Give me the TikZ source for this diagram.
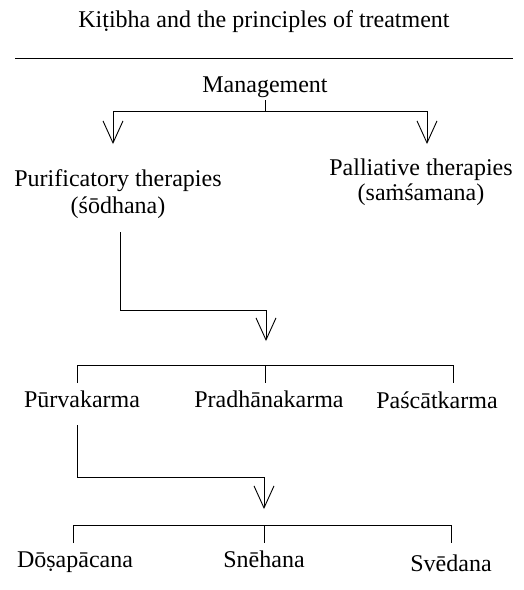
\documentclass[tikz,border=0pt]{standalone}
\usepackage{fontspec}
\setmainfont{Liberation Serif}
\usetikzlibrary{arrows.meta}

\begin{document}
\begin{tikzpicture}[x=1pt, y=-1pt,
  stage/.style={font=\fontsize{24}{26}\selectfont, inner sep=0pt, anchor=base, align=center},
  link/.style={line width=0.9pt},
  vee/.style={link, -{Straight Barb[length=22pt, width=20pt, line width=0.9pt]}}]
\useasboundingbox (0,0) rectangle (523,590);

% heading and rule
\node[stage] (title) at (264,27) {Kiṭibha and the principles of treatment};
\coordinate (ruleL) at (15,58);
\coordinate (ruleR) at (513,58);
\draw[link] (ruleL) -- (ruleR);

% level 1
\node[stage] (mgmt) at (265,92) {Management};
\node[stage] (pur) at (118,213) {Purificatory therapies\\[1pt](śōdhana)};
\node[stage] (pal) at (421,200) {Palliative therapies\\[-1pt](saṁśamana)};

\coordinate (m1) at (265,100);
\coordinate (m2) at (265,111);
\coordinate (mL) at (113,111);
\coordinate (mR) at (427,111);
\coordinate (mLt) at (113,144);
\coordinate (mRt) at (427,144);
\draw[link] (m1) -- (m2);
\draw[link] (mL) -- (mR);
\draw[vee] (mL) -- (mLt);
\draw[vee] (mR) -- (mRt);

% level 2
\coordinate (p1) at (120,232);
\coordinate (p2) at (120,310);
\coordinate (p3) at (266,310);
\coordinate (p4) at (266,341);
\draw[link] (p1) -- (p2) -- (p3);
\draw[vee] (p3) -- (p4);

\coordinate (b2L) at (77,365);
\coordinate (b2M) at (265,365);
\coordinate (b2R) at (453,365);
\draw[link] (77,383) -- (b2L) -- (b2R) -- (453,383);
\draw[link] (b2M) -- (265,383);

\node[stage] (purva) at (82,407) {Pūrvakarma};
\node[stage] (pradh) at (269,407) {Pradhānakarma};
\node[stage] (pasc) at (437,408) {Paścātkarma};

% level 3
\coordinate (q1) at (77,425);
\coordinate (q2) at (77,477);
\coordinate (q3) at (264,477);
\coordinate (q4) at (264,509);
\draw[link] (q1) -- (q2) -- (q3);
\draw[vee] (q3) -- (q4);

\coordinate (b3L) at (73,525);
\coordinate (b3M) at (264,525);
\coordinate (b3R) at (451,525);
\draw[link] (73,543) -- (b3L) -- (b3R) -- (451,543);
\draw[link] (b3M) -- (264,543);

\node[stage] (dosa) at (75,567) {Dōṣapācana};
\node[stage] (sneh) at (264,567) {Snēhana};
\node[stage] (sved) at (451,571) {Svēdana};

\end{tikzpicture}
\end{document}
